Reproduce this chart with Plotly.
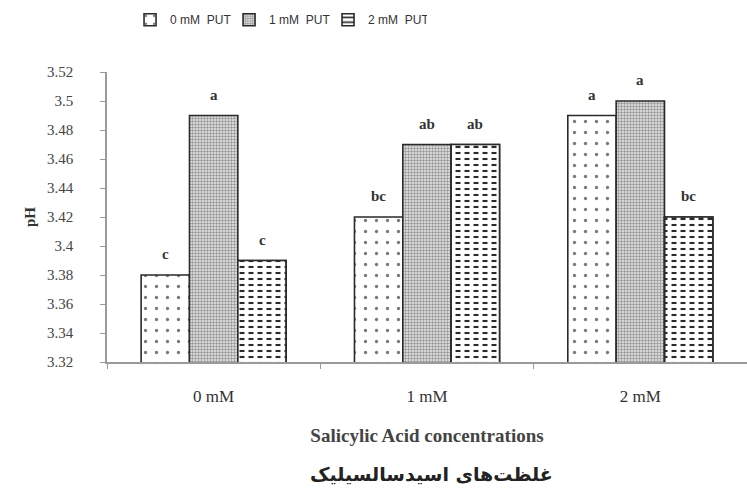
import plotly.graph_objects as go

# Salicylic acid levels on the x axis, putrescine (PUT) levels as series
categories = ["0 mM", "1 mM", "2 mM"]
series_names = ["0 mM  PUT", "1 mM  PUT", "2 mM  PUT"]
ph_put0 = [3.38, 3.42, 3.49]
ph_put1 = [3.49, 3.47, 3.50]
ph_put2 = [3.39, 3.47, 3.42]
letters_put0 = ["c", "bc", "a"]
letters_put1 = ["a", "ab", "a"]
letters_put2 = ["c", "ab", "bc"]
y_ticks = [3.32, 3.34, 3.36, 3.38, 3.40, 3.42, 3.44, 3.46, 3.48, 3.50, 3.52]
y_tick_text = ["3.32", "3.34", "3.36", "3.38", "3.4", "3.42", "3.44", "3.46", "3.48", "3.5", "3.52"]

W, H = 747, 490
ML, MR, MT, MB = 107, 0, 72, 128
BARGAP = 0.32

outline = dict(color="#2a2a2a", width=1.6)

fig = go.Figure()
fig.add_trace(go.Bar(
    x=categories, y=ph_put0, name=series_names[0], offsetgroup="g0",
    marker=dict(color="white", line=outline,
                pattern=dict(shape=".", size=11, solidity=0.07,
                             fgcolor="#7a7a7a", bgcolor="white", fillmode="replace")),
))
fig.add_trace(go.Bar(
    x=categories, y=ph_put1, name=series_names[1], offsetgroup="g1",
    marker=dict(color="#c8c8c8", line=outline,
                pattern=dict(shape="+", size=3, solidity=0.35,
                             fgcolor="#8c8c8c", bgcolor="#d6d6d6", fillmode="replace")),
))
fig.add_trace(go.Bar(
    x=categories, y=ph_put2, name=series_names[2], offsetgroup="g2",
    marker=dict(color="white", line=outline,
                pattern=dict(shape="-", size=6, solidity=0.35,
                             fgcolor="#2a2a2a", bgcolor="white", fillmode="replace")),
))
# white vertical stripes over the third series break its lines into dashes
fig.add_trace(go.Bar(
    x=categories, y=ph_put2, offsetgroup="g2", showlegend=False, hoverinfo="skip",
    marker=dict(color="rgba(255,255,255,0)", line=outline,
                pattern=dict(shape="|", size=9, solidity=0.45,
                             fgcolor="white", bgcolor="rgba(255,255,255,0)",
                             fillmode="replace")),
))

# significance letters above each bar
plot_w = W - ML - MR
bar_px = plot_w / len(categories) * (1 - BARGAP) / 3
annotations = []
for k, (vals, labs) in enumerate([(ph_put0, letters_put0), (ph_put1, letters_put1), (ph_put2, letters_put2)]):
    for cat, v, lab in zip(categories, vals, labs):
        annotations.append(dict(
            x=cat, y=v, xref="x", yref="y", text="<b>" + lab + "</b>", showarrow=False,
            xshift=(k - 1) * bar_px, yshift=11, yanchor="bottom",
            font=dict(family="Liberation Serif", size=15, color="#333"),
        ))

plot_h = H - MT - MB
annotations.append(dict(
    x=0.5, y=-(474 - (H - MB)) / plot_h, xref="paper", yref="paper",
    text="<b>غلظت‌های اسیدسالسیلیک</b>", showarrow=False, yanchor="middle",
    xshift=(431 - (ML + plot_w / 2)),
    font=dict(family="DejaVu Sans", size=19, color="#222"),
))

fig.update_layout(
    width=W, height=H,
    margin=dict(l=ML, r=MR, t=MT, b=MB),
    paper_bgcolor="white", plot_bgcolor="white",
    barmode="group", bargap=BARGAP, bargroupgap=0,
    showlegend=True,
    legend=dict(
        orientation="h", x=0.036, xanchor="left", y=1.23, yanchor="top",
        font=dict(family="Liberation Sans", size=12, color="#333"),
        itemwidth=30, traceorder="normal",
        entrywidth=54, entrywidthmode="pixels",
    ),
    annotations=annotations,
    font=dict(family="Liberation Serif", color="#333"),
)

fig.update_xaxes(
    showline=True, linecolor="#9a9a9a", linewidth=1.5,
    ticks="outside", tickson="boundaries", ticklen=5, tickcolor="#9a9a9a",
    ticklabelstandoff=18,
    tickfont=dict(family="Liberation Serif", size=17, color="#333"),
    title=dict(text="<b>Salicylic Acid concentrations</b>", standoff=24,
               font=dict(family="Liberation Serif", size=19, color="#444")),
    showgrid=False,
)
fig.update_yaxes(
    range=[3.32, 3.52], tickvals=y_ticks, ticktext=y_tick_text,
    showline=True, linecolor="#9a9a9a", linewidth=1.5,
    ticks="outside", ticklen=5, tickcolor="#9a9a9a",
    ticklabelstandoff=24,
    tickfont=dict(family="Liberation Serif", size=15, color="#444"),
    title=dict(text="<b>pH</b>", standoff=8,
               font=dict(family="Liberation Serif", size=15, color="#333")),
    showgrid=False, zeroline=False,
)

fig.write_html("out.html")
